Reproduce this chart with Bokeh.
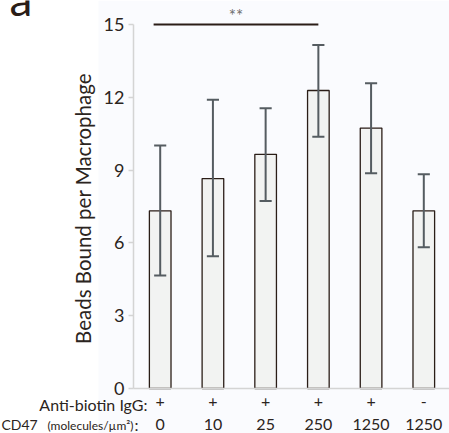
import math
from bokeh.plotting import figure
from bokeh.models import ColumnDataSource, Range1d, Label, FixedTicker, LinearAxis, BoxAnnotation
from bokeh.embed import file_html
from bokeh.resources import INLINE

# ---- data ----
igg_present = ["+", "+", "+", "+", "+", "-"]
cd47_density = ["0", "10", "25", "250", "1250", "1250"]
beads_mean = [7.32, 8.65, 9.65, 12.28, 10.73, 7.32]
err_low = [4.66, 5.45, 7.73, 10.37, 8.87, 5.82]
err_high = [10.01, 11.90, 11.55, 14.16, 12.58, 8.83]
y_ticks = [0, 3, 6, 9, 12, 15]
sig_from, sig_to = 0, 3
sig_level = 15
sig_text = "**"

# ---- layout constants (pixels) ----
W, H = 449, 433
BAR0_PX, STEP_PX = 159.7, 52.72     # first bar centre, bar spacing
ZERO_PY, UNIT_PX = 388.0, 24.267    # y=0 pixel row, pixels per unit
AXIS_PX = 133
X0 = -BAR0_PX / STEP_PX
X1 = (W - BAR0_PX) / STEP_PX
Y0 = -(H - ZERO_PY) / UNIT_PX
Y1 = ZERO_PY / UNIT_PX
FONT = "Lato"
TXT = "#2b2420"
DARK = "#2a1d17"

def xd(px):
    return (px - BAR0_PX) / STEP_PX

def yd(py):
    return (ZERO_PY - py) / UNIT_PX

def base(py, size):
    # compensate renderer's baseline offset
    return yd(py - 0.33 * size)

xs = list(range(len(beads_mean)))
src = ColumnDataSource(dict(x=xs, top=beads_mean, lo=err_low, hi=err_high,
                            cl=[v - 0.115 for v in xs], cr=[v + 0.115 for v in xs]))

p = figure(width=W, height=H, output_backend="svg", toolbar_location=None,
           x_range=Range1d(X0, X1), y_range=Range1d(Y0, Y1),
           x_axis_location=None, y_axis_location=None,
           min_border=0)
p.outline_line_color = None
p.xgrid.visible = False
p.ygrid.visible = False
p.background_fill_color = "white"
p.border_fill_color = "white"

p.add_layout(BoxAnnotation(left=xd(98), fill_color="#fafbfe", fill_alpha=1.0,
                           line_color=None, level="underlay"))

p.vbar(x="x", width=0.41, top="top", bottom=0, source=src,
       fill_color="#f2f3f2", line_color=DARK, line_width=1.3)
p.segment(x0="x", x1="x", y0="lo", y1="hi", source=src, line_color="#555c61", line_width=2)
p.segment(x0="cl", x1="cr", y0="hi", y1="hi", source=src, line_color="#555c61", line_width=2)
p.segment(x0="cl", x1="cr", y0="lo", y1="lo", source=src, line_color="#555c61", line_width=2)

# significance bar
p.segment(x0=[sig_from - 0.125], x1=[sig_to], y0=[sig_level], y1=[sig_level],
          line_color=DARK, line_width=2)
p.add_layout(Label(x=(sig_from - 0.125 + sig_to) / 2, y=yd(15), text=sig_text,
                   text_align="center", text_baseline="middle",
                   text_font=FONT, text_font_size="17px",
                   text_color="#6e6e6e"))

# axes at fixed locations
ya = LinearAxis(fixed_location=xd(AXIS_PX), ticker=FixedTicker(ticks=y_ticks), bounds=(0, 15))
ya.axis_line_color = "#d4d4d4"
ya.axis_line_width = 1.5
ya.major_tick_line_color = "#d4d4d4"
ya.major_tick_line_width = 1.5
ya.major_tick_out = 5
ya.major_tick_in = 0
ya.minor_tick_line_color = None
ya.major_label_text_font = FONT
ya.major_label_text_font_size = "18px"
ya.major_label_text_color = TXT
ya.major_label_standoff = 4
p.add_layout(ya, "left")

xa = LinearAxis(fixed_location=0, ticker=FixedTicker(ticks=[]), bounds=(xd(AXIS_PX), X1))
xa.axis_line_color = "#d4d4d4"
xa.axis_line_width = 1.5
xa.major_tick_line_color = None
xa.minor_tick_line_color = None
xa.major_label_text_color = None
p.add_layout(xa, "below")

# y-axis title
p.add_layout(Label(x=xd(82), y=yd(208), text="Beads Bound per Macrophage",
                   angle=math.pi / 2, text_align="center", text_baseline="middle",
                   text_font=FONT, text_font_size="20.5px", text_color=TXT))

# panel letter
p.add_layout(Label(x=xd(9), y=base(13, 46), text="a", text_align="left",
                   text_baseline="alphabetic", text_font=FONT,
                   text_font_size="46px", text_color=DARK))

# condition rows
row1, row2 = 409, 429
p.add_layout(Label(x=xd(147), y=base(row1, 16), text="Anti-biotin IgG:", text_align="right",
                   text_baseline="alphabetic", text_font=FONT, text_font_size="16px",
                   text_color=TXT))
p.add_layout(Label(x=xd(1), y=base(row2, 14), text="CD47", text_align="left",
                   text_baseline="alphabetic", text_font=FONT, text_font_size="14px",
                   text_color=TXT))
p.add_layout(Label(x=xd(133), y=base(row2, 12), text="(molecules/\u00b5m\u00b2)", text_align="right",
                   text_baseline="alphabetic", text_font=FONT, text_font_size="12px",
                   text_color=TXT))
p.add_layout(Label(x=xd(138), y=base(row2, 16), text=":", text_align="right",
                   text_baseline="alphabetic", text_font=FONT, text_font_size="16px",
                   text_color=TXT))
for i, (s, c) in enumerate(zip(igg_present, cd47_density)):
    p.add_layout(Label(x=xs[i], y=yd(405 - 0.28 * 16), text=s, text_align="center",
                       text_baseline="middle", text_font=FONT, text_font_size="16px",
                       text_color=TXT))
    p.add_layout(Label(x=xs[i], y=base(row2, 16), text=c, text_align="center",
                       text_baseline="alphabetic", text_font=FONT, text_font_size="16px",
                       text_color=TXT))

open("out.html", "w").write(file_html(p, INLINE))
